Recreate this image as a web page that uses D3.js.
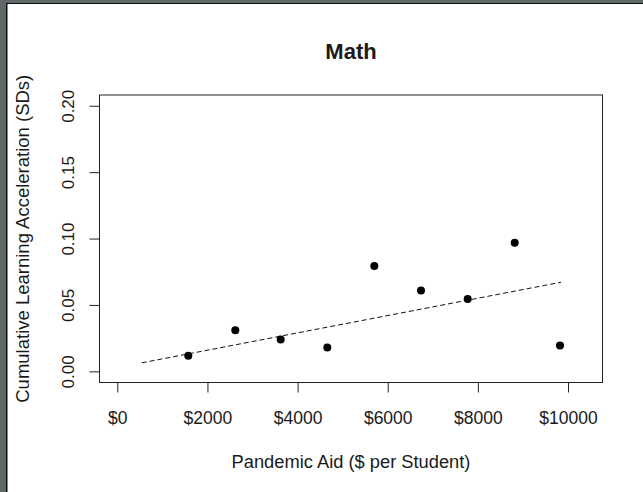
<!DOCTYPE html>
<html>
<head>
<meta charset="utf-8">
<script src="https://cdn.jsdelivr.net/npm/d3@7"></script>
<style>
  body { margin: 0; background: #fff; }
  text { font-family: "Liberation Sans", Arial, sans-serif; fill: #1a1a1a; }
</style>
</head>
<body>
<div id="chart"></div>
<script>
// aid per student ($) and cumulative acceleration (SDs)
var aid = [1575, 2618, 3625, 4659, 5702, 6738, 7774, 8817, 9822];
var accel = [0.0117, 0.031, 0.0239, 0.0179, 0.0793, 0.0608, 0.0545, 0.0968, 0.0194];

// dashed fit line end points
var fitX = [541, 9844];
var fitY = [0.0064, 0.0671];

var xTicks = [0, 2000, 4000, 6000, 8000, 10000];
var yTicks = [0, 0.05, 0.1, 0.15, 0.2];

var width = 643, height = 492;
var box = { left: 99.5, right: 602.5, top: 95, bottom: 382.5 };

var svg = d3.select("#chart").append("svg")
  .attr("width", width)
  .attr("height", height);

// window frame (gray strip top/left)
svg.append("rect").attr("x", 0).attr("y", 0).attr("width", 6).attr("height", height).attr("fill", "#5f6769");
svg.append("rect").attr("x", 0).attr("y", 0).attr("width", width).attr("height", 3).attr("fill", "#5f6769");
svg.append("rect").attr("x", 6).attr("y", 3).attr("width", 1.5).attr("height", height).attr("fill", "#111");
svg.append("rect").attr("x", 6).attr("y", 3).attr("width", width).attr("height", 1).attr("fill", "#111");

// R style 4% padding around the data range
var x = d3.scaleLinear().domain([-395, 10765]).range([box.left, box.right]);
var y = d3.scaleLinear().domain([-0.0084, 0.2081]).range([box.bottom, box.top]);

var xAxis = d3.axisBottom(x)
  .tickValues(xTicks)
  .tickSize(10)
  .tickPadding(5)
  .tickFormat(function(d) { return "$" + d; });

var gx = svg.append("g")
  .attr("transform", "translate(0," + box.bottom + ")")
  .call(xAxis);
gx.select(".domain").remove();
gx.selectAll("line").attr("stroke", "#222");
gx.selectAll("text")
  .attr("y", 41.5).attr("dy", null)
  .style("font-size", "17.5px").style("font-family", "Liberation Sans, Arial, sans-serif")
  .attr("fill", "#1a1a1a");

var yAxis = d3.axisLeft(y)
  .tickValues(yTicks)
  .tickSize(10)
  .tickFormat(d3.format(".2f"));

var gy = svg.append("g")
  .attr("transform", "translate(" + box.left + ",0)")
  .call(yAxis);
gy.select(".domain").remove();
gy.selectAll("line").attr("stroke", "#222");
gy.selectAll("text")
  .attr("x", null).attr("dy", null)
  .attr("text-anchor", "middle")
  .attr("transform", "translate(-25.5,0) rotate(-90)")
  .style("font-size", "17px").style("font-family", "Liberation Sans, Arial, sans-serif")
  .attr("fill", "#1a1a1a");

// plot box
svg.append("rect")
  .attr("x", box.left).attr("y", box.top)
  .attr("width", box.right - box.left).attr("height", box.bottom - box.top)
  .attr("fill", "none").attr("stroke", "#222").attr("stroke-width", 1);

// fit line
var fit = fitX.map(function(d, i) { return [d, fitY[i]]; });
svg.append("path")
  .datum(fit)
  .attr("d", d3.line().x(function(d) { return x(d[0]); }).y(function(d) { return y(d[1]); }))
  .attr("fill", "none")
  .attr("stroke", "#111")
  .attr("stroke-width", 1)
  .attr("stroke-dasharray", "5,3");

// points
svg.selectAll("circle.pt")
  .data(aid)
  .enter().append("circle")
  .attr("class", "pt")
  .attr("cx", function(d) { return x(d); })
  .attr("cy", function(d, i) { return y(accel[i]); })
  .attr("r", 4)
  .attr("fill", "#000");

// titles
svg.append("text")
  .attr("x", (box.left + box.right) / 2).attr("y", 59)
  .attr("text-anchor", "middle")
  .style("font-size", "22px").style("font-weight", "bold")
  .attr("fill", "#000")
  .text("Math");

svg.append("text")
  .attr("x", (box.left + box.right) / 2).attr("y", 467.5)
  .attr("text-anchor", "middle")
  .style("font-size", "18.3px")
  .text("Pandemic Aid ($ per Student)");

svg.append("text")
  .attr("transform", "translate(29," + (box.top + box.bottom) / 2 + ") rotate(-90)")
  .attr("text-anchor", "middle")
  .style("font-size", "18.5px")
  .text("Cumulative Learning Acceleration (SDs)");
</script>
</body>
</html>
